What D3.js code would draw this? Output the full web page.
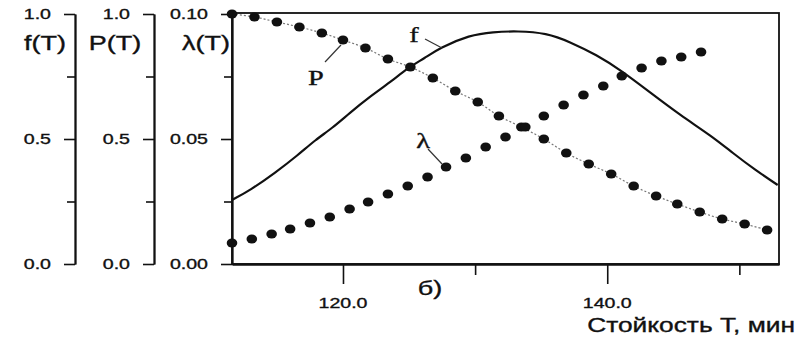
<!DOCTYPE html>
<html>
<head>
<meta charset="UTF-8">
<title>f(T), P(T), lambda(T)</title>
<script src="https://d3js.org/d3.v7.min.js"></script>
<style>
 body { margin: 0; background: #fff; }
 svg { display: block; }
</style>
</head>
<body>
<svg width="799" height="347"></svg>
<script>
// density f(T) - solid line
var fT   = [111.6, 113.0, 114.85, 116.6, 117.9, 119.2, 120.5, 122.0, 123.6, 124.9, 126.2, 127.3,
            129.6, 131.35, 133.2, 135.4, 137.2, 139.2, 141.0, 143.2, 145.5, 147.9, 149.5, 151.2, 152.9];
var fVal = [0.256, 0.296, 0.364, 0.436, 0.496, 0.544, 0.604, 0.668, 0.728, 0.784, 0.824, 0.864,
            0.916, 0.928, 0.932, 0.924, 0.888, 0.836, 0.776, 0.688, 0.596, 0.512, 0.444, 0.376, 0.316];

// reliability P(T) - dots on dotted line
var pT   = [111.6, 113.3, 115.0, 116.7, 118.4, 120.0, 121.7, 123.4, 125.1, 126.8, 128.5, 130.2,
            131.8, 133.5, 135.2, 136.9, 138.6, 140.3, 142.0, 143.7, 145.3, 147.0, 148.7, 150.4, 152.1];
var pVal = [1.0, 0.988, 0.968, 0.948, 0.924, 0.896, 0.864, 0.82, 0.788, 0.744, 0.692, 0.648,
            0.592, 0.548, 0.50, 0.444, 0.40, 0.36, 0.312, 0.272, 0.24, 0.208, 0.18, 0.16, 0.136];

// failure rate lambda(T) - dots
var lamT   = [111.6, 113.1, 114.6, 116.0, 117.5, 119.0, 120.5, 121.9, 123.4, 124.9, 126.4, 127.8,
              129.3, 130.8, 132.3, 133.8, 135.2, 136.7, 138.2, 139.7, 141.1, 142.6, 144.1, 145.6, 147.1];
var lamVal = [0.0084, 0.0100, 0.0120, 0.0140, 0.0164, 0.0188, 0.0220, 0.0248, 0.0280, 0.0312, 0.0348, 0.0388,
              0.0424, 0.0468, 0.0508, 0.0548, 0.0592, 0.0636, 0.0676, 0.0712, 0.0752, 0.0784, 0.0812, 0.0828, 0.0848];

var xTicks = [120, 140];
var xMinor = [130, 150];
var unitTicks = [0, 0.5, 1.0];
var unitMinor = [0.25, 0.75];
var lamTicks = [0, 0.05, 0.10];
var lamMinor = [0.025, 0.075];

var svg = d3.select("svg");
var SX = 1.35;   // the scanned figure is stretched sideways
var INK = "#111";

var x = d3.scaleLinear().domain([111.6, 153.0]).range([232, 779]);
var yUnit = d3.scaleLinear().domain([0, 1]).range([264, 14]);
var yLam = d3.scaleLinear().domain([0, 0.1]).range([264, 14]);

function label(t, px, py, size, anchor, family) {
  return svg.append("text")
    .attr("transform", "translate(" + px + "," + py + ") scale(" + SX + ",1)")
    .attr("text-anchor", anchor)
    .attr("dominant-baseline", "central")
    .style("font-family", family || "'Liberation Sans', Arial, sans-serif")
    .style("font-size", size + "px")
    .style("fill", INK)
    .style("stroke", INK).style("stroke-width", 0.35)
    .text(t);
}

function leftAxis(ax, scale, major, minor, fmt, title, titleX) {
  svg.append("g").attr("transform", "translate(" + ax + ",0)")
    .call(d3.axisLeft(scale).tickValues(major).tickSize(11).tickSizeOuter(0).tickFormat(""));
  svg.append("g").attr("transform", "translate(" + ax + ",0)")
    .call(d3.axisLeft(scale).tickValues(minor).tickSize(8).tickSizeOuter(0).tickFormat(""));
  major.forEach(function(v) { label(d3.format(fmt)(v), ax - 24, scale(v), 14.5, "end"); });
  label(title, titleX, 43, 20, "middle");
}

leftAxis(75, yUnit, unitTicks, unitMinor, ".1f", "f(T)", 45);
leftAxis(154, yUnit, unitTicks, unitMinor, ".1f", "P(T)", 115);
leftAxis(232, yLam, lamTicks, lamMinor, ".2f", "\u03bb(T)", 206);

// frame
svg.append("rect")
  .attr("x", x.range()[0]).attr("y", yUnit(1) - 1)
  .attr("width", x.range()[1] - x.range()[0])
  .attr("height", yUnit(0) - yUnit(1) + 1)
  .style("fill", "none").style("stroke", INK).style("stroke-width", 1.8);

// bottom axis
svg.append("g").attr("transform", "translate(0," + yUnit(0) + ")")
  .call(d3.axisBottom(x).tickValues(xTicks).tickSize(20).tickSizeOuter(0).tickFormat(""));
svg.append("g").attr("transform", "translate(0," + yUnit(0) + ")")
  .call(d3.axisBottom(x).tickValues(xMinor).tickSize(11).tickSizeOuter(0).tickFormat(""));
xTicks.forEach(function(v) { label(d3.format(".1f")(v), x(v), 303, 14.5, "middle"); });

svg.selectAll(".domain").style("stroke", INK).style("stroke-width", 1.8);
svg.selectAll(".tick line").style("stroke", INK).style("stroke-width", 1.6);

label("\u0421\u0442\u043e\u0439\u043a\u043e\u0441\u0442\u044c \u0422, \u043c\u0438\u043d", 795, 325, 19.5, "end");
label("\u0431)", 430, 288, 20, "middle");

// f curve
var fData = fT.map(function(t, i) { return [t, fVal[i]]; });
svg.append("path").datum(fData)
  .attr("d", d3.line().x(function(d) { return x(d[0]); }).y(function(d) { return yUnit(d[1]); })
    .curve(d3.curveBasis))
  .style("fill", "none").style("stroke", INK).style("stroke-width", 2.2);

// P dotted line + dots
var pData = pT.map(function(t, i) { return [t, pVal[i]]; });
svg.append("path").datum(pData)
  .attr("d", d3.line().x(function(d) { return x(d[0]); }).y(function(d) { return yUnit(d[1]); })
    .curve(d3.curveCatmullRom))
  .style("fill", "none").style("stroke", "#777").style("stroke-width", 1.2)
  .style("stroke-dasharray", "2,2");
svg.append("g").selectAll("ellipse").data(pData).enter().append("ellipse")
  .attr("cx", function(d) { return x(d[0]); })
  .attr("cy", function(d) { return yUnit(d[1]); })
  .attr("rx", 5.3).attr("ry", 4.5)
  .style("fill", INK);

// lambda dots
var lamData = lamT.map(function(t, i) { return [t, lamVal[i]]; });
svg.append("g").selectAll("ellipse").data(lamData).enter().append("ellipse")
  .attr("cx", function(d) { return x(d[0]); })
  .attr("cy", function(d) { return yLam(d[1]); })
  .attr("rx", 5.3).attr("ry", 4.5)
  .style("fill", INK);

// curve labels with leader lines
var serif = "'Liberation Serif', 'Times New Roman', serif";
label("f", 414, 35, 21, "middle", serif);
label("P", 316, 78, 21, "middle", serif);
label("\u03bb", 423, 141, 21, "middle", serif);
svg.append("line").attr("x1", 425).attr("y1", 39).attr("x2", 442).attr("y2", 48)
  .style("stroke", "#333").style("stroke-width", 1.2);
svg.append("line").attr("x1", 325).attr("y1", 62).attr("x2", 341).attr("y2", 45)
  .style("stroke", "#333").style("stroke-width", 1.2);
svg.append("line").attr("x1", 428).attr("y1", 149).attr("x2", 442).attr("y2", 164)
  .style("stroke", "#333").style("stroke-width", 1.2);
</script>
</body>
</html>
